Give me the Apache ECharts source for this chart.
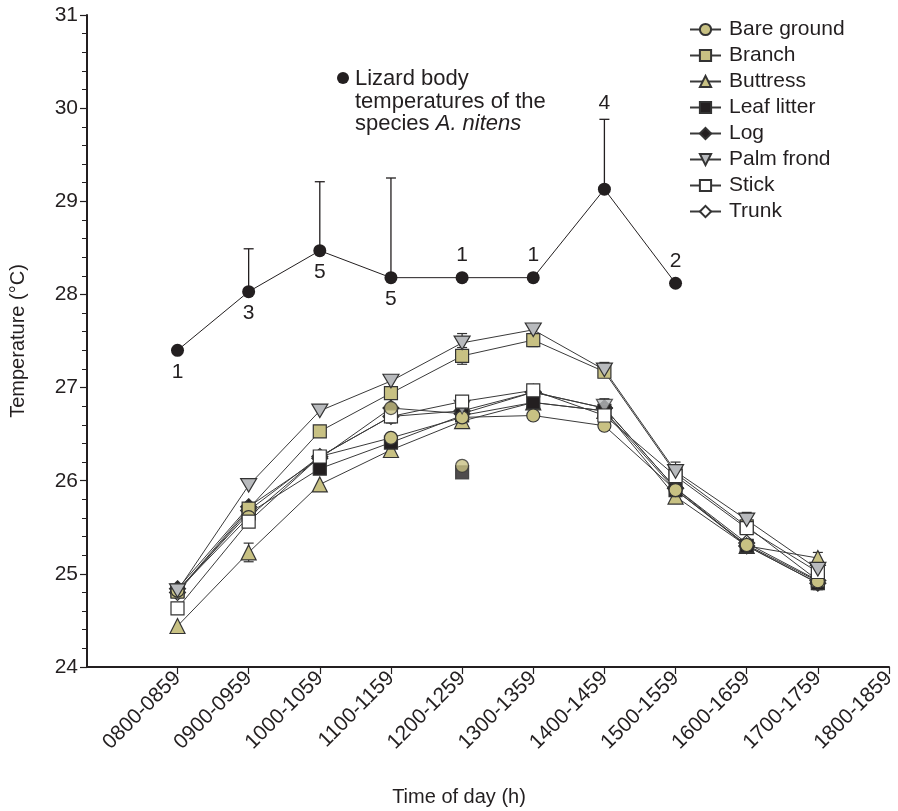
<!DOCTYPE html>
<html>
<head>
<meta charset="utf-8">
<script src="https://cdn.jsdelivr.net/npm/echarts@6/dist/echarts.min.js"></script>
<style>html,body{margin:0;padding:0;background:#fff}#c{width:898px;height:811px}</style>
</head>
<body>
<div id="c"></div>
<script>
// ---------------- DATA ----------------
const categories = ['0800-0859','0900-0959','1000-1059','1100-1159','1200-1259','1300-1359','1400-1459','1500-1559','1600-1659','1700-1759','1800-1859'];

// Lizard body temperature (A. nitens), upper error bar, sample size
const lizardMean  = [27.40, 28.03, 28.47, 28.18, 28.18, 28.18, 29.13, 28.12];
const lizardUpper = [null, 28.49, 29.21, 29.25, null, null, 29.88, null];
const lizardN     = [1, 3, 5, 5, 1, 1, 4, 2];

// Microhabitat temperatures
const bareGround = [24.82, 25.61, 26.26, 26.46, 26.68, 26.70, 26.59, 25.90, 25.31, 24.92];
const branch     = [24.81, 25.70, 26.53, 26.94, 27.34, 27.51, 27.17, 26.08, 25.51, 24.93];
const buttress   = [24.44, 25.23, 25.96, 26.33, 26.64, 26.84, 26.75, 25.83, 25.30, 25.17];
const leafLitter = [24.82, 25.65, 26.13, 26.41, 26.70, 26.84, 26.75, 25.90, 25.30, 24.90];
const logT       = [24.84, 25.72, 26.24, 26.78, 26.72, 26.95, 26.78, 25.92, 25.30, 24.90];
const palmFrond  = [24.82, 25.95, 26.75, 27.07, 27.48, 27.62, 27.19, 26.10, 25.58, 25.05];
const stick      = [24.63, 25.56, 26.26, 26.69, 26.85, 26.97, 26.70, 26.05, 25.49, 25.02];
const trunk      = [24.80, 25.68, 26.26, 26.69, 26.75, 26.95, 26.78, 25.92, 25.33, 24.93];

// standard errors (visible whiskers)
const palmFrondErr = [0, 0, 0, 0, 0.10, 0.05, 0.08, 0.10, 0.08, 0];
const branchErr    = [0, 0, 0, 0, 0.09, 0.07, 0, 0, 0, 0];
const buttressErr  = [0, 0.10, 0, 0, 0.05, 0, 0, 0, 0, 0.06];
const stickErr     = [0, 0, 0, 0.07, 0, 0, 0.06, 0, 0, 0];
const logErr       = [0, 0, 0, 0, 0, 0, 0, 0, 0, 0.07];

// isolated (unconnected) markers printed in the figure
const bareGroundExtra = [[3, 26.78], [4, 26.16]];
const leafLitterExtra = [[4, 26.09]];
const palmFrondExtra  = [[4, 26.79], [6, 26.80]];
const palmFrondExtraErr = [0.07, 0.08];

// ---------------- CHART ----------------
const OLIVE = '#c8c183', GRAY = '#b8babd', BLACK = '#231f20', WHITE = '#ffffff', LINE = '#3a3a3a';
const FONT = 'Liberation Sans, Arial, Helvetica, sans-serif';
const FS = 21;
const invTri = 'path://M0,0 L20,0 L10,17 Z';

const chart = echarts.init(document.getElementById('c'), null, {renderer: 'canvas'});
const toXY = arr => arr.map((v, i) => [i, v]);

function groundSeries(name, data, symbol, fill, size) {
  return {
    name, type: 'line', data: toXY(data), symbol, symbolSize: size,
    symbolKeepAspect: true,
    lineStyle: {color: LINE, width: 1},
    itemStyle: {color: fill, borderColor: '#333', borderWidth: 1.2},
    emphasis: {disabled: true}, z: 3, animation: false
  };
}
function extraSeries(name, data, symbol, fill, size) {
  return {
    name, type: 'scatter', data, symbol, symbolSize: size, symbolKeepAspect: true,
    itemStyle: {color: fill, borderColor: '#333', borderWidth: 1.2}, z: 3, emphasis: {disabled: true}
  };
}
function errData(mean, err) {
  const out = [];
  err.forEach((e, i) => { if (e > 0) out.push([i, mean[i] - e, mean[i] + e]); });
  return out;
}
const groundErr = [].concat(
  errData(palmFrond, palmFrondErr), errData(branch, branchErr),
  errData(buttress, buttressErr), errData(stick, stickErr), errData(logT, logErr),
  palmFrondExtra.map((p, k) => [p[0], p[1] - palmFrondExtraErr[k], p[1] + palmFrondExtraErr[k]]));

const lizardErr = [];
lizardUpper.forEach((u, i) => { if (u != null) lizardErr.push([i, lizardMean[i], u]); });

// n labels: below the point for the first four periods, above afterwards (above the whisker if any)
const lizardLabels = lizardN.map((n, i) => {
  const below = i < 4;
  const onCap = !below && lizardUpper[i] != null;
  return [i, onCap ? lizardUpper[i] : lizardMean[i], n, below ? 1 : (onCap ? 2 : 0)];
});

const option = {
  animation: false,
  backgroundColor: '#fff',
  grid: {left: 87, right: 9, top: 15, bottom: 144, outerBoundsMode: 'none', containLabel: false},
  xAxis: {
    type: 'value', min: -1.272, max: 10,
    name: 'Time of day (h)', nameLocation: 'middle', nameGap: 120,
    nameTextStyle: {fontSize: FS - 1, color: BLACK, fontFamily: FONT, padding: [0, 58, 0, 0]},
    axisLine: {show: true, onZero: false, lineStyle: {color: BLACK, width: 2}},
    axisTick: {show: true, customValues: categories.map((c, i) => i), length: 7, lineStyle: {color: BLACK, width: 1.2}},
    axisLabel: {customValues: categories.map((c, i) => i), formatter: v => categories[Math.round(v)] || '',
      rotate: 45, fontSize: FS, color: BLACK, fontFamily: FONT, margin: 8},
    splitLine: {show: false}
  },
  yAxis: {
    type: 'value', min: 24, max: 31, interval: 1,
    name: 'Temperature (°C)', nameLocation: 'middle', nameGap: 59, nameRotate: 90,
    nameTextStyle: {fontSize: FS - 1, color: BLACK, fontFamily: FONT},
    axisLine: {show: true, onZero: false, lineStyle: {color: BLACK, width: 2}},
    axisTick: {show: true, length: 7, lineStyle: {color: BLACK, width: 1.2}},
    minorTick: {show: true, splitNumber: 5, length: 5, lineStyle: {color: BLACK, width: 1}},
    axisLabel: {fontSize: FS, color: BLACK, fontFamily: FONT, margin: 9},
    splitLine: {show: false}
  },
  legend: {
    orient: 'vertical', left: 689, top: 19, padding: 0, itemGap: 5, itemWidth: 31, itemHeight: 14,
    textStyle: {fontSize: FS, color: BLACK, fontFamily: FONT, padding: [0, 0, 0, 3]},
    data: ['Bare ground','Branch','Buttress','Leaf litter','Log','Palm frond','Stick','Trunk'],
    selectedMode: false
  },
  graphic: [
    {type: 'circle', shape: {cx: 343, cy: 78, r: 6}, style: {fill: BLACK}},
    {type: 'text', left: 355, top: 68, style: {
      text: '{n|Lizard body}\n{n|temperatures of the}\n{n|species }{i|A. nitens}',
      rich: {n: {fontSize: 22, fontFamily: FONT, fill: BLACK, lineHeight: 22.5},
             i: {fontSize: 22, fontFamily: FONT, fill: BLACK, fontStyle: 'italic', lineHeight: 22.5}}
    }}
  ],
  series: [
    {
      type: 'custom', name: 'groundErr', data: groundErr, z: 2, silent: true,
      renderItem: (p, api) => {
        const lo = api.coord([api.value(0), api.value(1)]);
        const hi = api.coord([api.value(0), api.value(2)]);
        const w = 5;
        return {type: 'group', children: [
          {type: 'line', shape: {x1: lo[0], y1: lo[1], x2: hi[0], y2: hi[1]}, style: {stroke: '#333', lineWidth: 1.2}},
          {type: 'line', shape: {x1: lo[0]-w, y1: lo[1], x2: lo[0]+w, y2: lo[1]}, style: {stroke: '#333', lineWidth: 1.2}},
          {type: 'line', shape: {x1: hi[0]-w, y1: hi[1], x2: hi[0]+w, y2: hi[1]}, style: {stroke: '#333', lineWidth: 1.2}}
        ]};
      }
    },
    {
      type: 'custom', name: 'lizardErr', data: lizardErr, z: 2, silent: true,
      renderItem: (p, api) => {
        const lo = api.coord([api.value(0), api.value(1)]);
        const hi = api.coord([api.value(0), api.value(2)]);
        const w = 5;
        return {type: 'group', children: [
          {type: 'line', shape: {x1: lo[0], y1: lo[1], x2: hi[0], y2: hi[1]}, style: {stroke: BLACK, lineWidth: 1.3}},
          {type: 'line', shape: {x1: hi[0]-w, y1: hi[1], x2: hi[0]+w, y2: hi[1]}, style: {stroke: BLACK, lineWidth: 1.3}}
        ]};
      }
    },
    {
      type: 'custom', name: 'lizardN', data: lizardLabels, z: 5, silent: true,
      renderItem: (p, api) => {
        const c = api.coord([api.value(0), api.value(1)]);
        const mode = api.value(3);
        const dy = mode === 1 ? 22 : (mode === 2 ? -16 : -22);
        return {type: 'text', x: c[0], y: c[1] + dy, style: {
          text: String(api.value(2)), fontSize: FS, fontFamily: FONT, fill: BLACK, align: 'center', verticalAlign: 'middle'}};
      }
    },
    {
      name: 'Lizard', type: 'line', data: toXY(lizardMean), symbol: 'circle', symbolSize: 13,
      lineStyle: {color: BLACK, width: 1}, itemStyle: {color: BLACK}, z: 4, emphasis: {disabled: true}
    },
    // drawing order: first = bottom
    groundSeries('Trunk', trunk, 'diamond', WHITE, 16),
    groundSeries('Log', logT, 'diamond', BLACK, 16),
    groundSeries('Buttress', buttress, 'triangle', OLIVE, 15),
    groundSeries('Leaf litter', leafLitter, 'rect', BLACK, 13),
    groundSeries('Branch', branch, 'rect', OLIVE, 13),
    groundSeries('Bare ground', bareGround, 'circle', OLIVE, 13),
    extraSeries('pfExtra', palmFrondExtra, invTri, GRAY, 16),
    groundSeries('Stick', stick, 'rect', WHITE, 13),
    groundSeries('Palm frond', palmFrond, invTri, GRAY, 16),
    extraSeries('llExtra', leafLitterExtra, 'rect', BLACK, 13),
    extraSeries('bgExtra', bareGroundExtra, 'circle', OLIVE, 13)
  ]
};
chart.setOption(option);
</script>
</body>
</html>
